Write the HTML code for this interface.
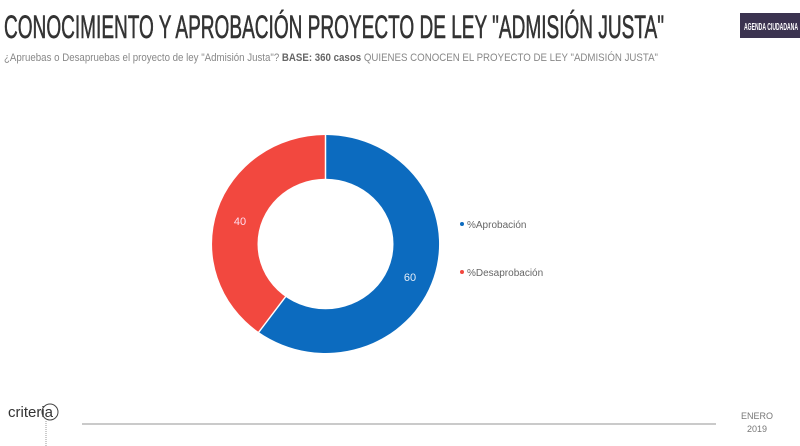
<!DOCTYPE html>
<html><head><meta charset="utf-8"><style>html,body{margin:0;padding:0;background:#fff;}svg{display:block}</style></head>
<body>
<svg width="800" height="446" viewBox="0 0 800 446" xmlns="http://www.w3.org/2000/svg">
<rect width="800" height="446" fill="#fff"/>
<text x="4" y="38" font-family="'Liberation Sans Narrow','Liberation Sans',sans-serif" font-size="32" fill="#333" stroke="#333" stroke-width="0.6" textLength="660" lengthAdjust="spacingAndGlyphs">CONOCIMIENTO Y APROBACIÓN PROYECTO DE LEY "ADMISIÓN JUSTA"</text>
<rect x="740" y="13" width="60" height="25" fill="#3b3350"/>
<text x="744" y="30" font-family="'Liberation Sans Narrow','Liberation Sans',sans-serif" font-size="10" font-weight="bold" fill="#fff" textLength="54" lengthAdjust="spacingAndGlyphs">AGENDA CIUDADANA</text>
<text x="4" y="61" font-family="'Liberation Sans Narrow','Liberation Sans',sans-serif" font-size="11" fill="#888" textLength="654" lengthAdjust="spacingAndGlyphs">¿Apruebas o Desapruebas el proyecto de ley "Admisión Justa"? <tspan font-weight="bold" fill="#666">BASE: 360 casos</tspan> QUIENES CONOCEN EL PROYECTO DE LEY "ADMISIÓN JUSTA"</text>
<g transform="translate(325.5,244) scale(1,0.96)">
<path d="M0,0 L0,-113.5 A113.5,113.5 0 1 1 -66.7,91.8 Z" fill="#0c6bbf"/>
<path d="M0,0 L-66.7,91.8 A113.5,113.5 0 0 1 0,-113.5 Z" fill="#f2483f"/>
<line x1="0" y1="0" x2="0" y2="-114" stroke="#fff" stroke-width="1.5"/>
<line x1="0" y1="0" x2="-67" y2="92.2" stroke="#fff" stroke-width="1.5"/>
<circle r="68" fill="#fff"/>
</g>
<text x="410" y="281" font-family="'Liberation Sans',sans-serif" font-size="11" fill="#e6eef8" text-anchor="middle">60</text>
<text x="240" y="225" font-family="'Liberation Sans',sans-serif" font-size="11" fill="#fde" text-anchor="middle">40</text>
<circle cx="462" cy="224" r="2" fill="#0c6bbf"/>
<text x="467" y="228" font-family="'Liberation Sans',sans-serif" font-size="10" fill="#666">%Aprobación</text>
<circle cx="462" cy="272" r="2" fill="#f2483f"/>
<text x="467" y="276" font-family="'Liberation Sans',sans-serif" font-size="10" fill="#666">%Desaprobación</text>
<text x="8" y="417" font-family="'Liberation Sans',sans-serif" font-size="15" fill="#333">criteria</text>
<circle cx="50" cy="412" r="8" fill="none" stroke="#444" stroke-width="1"/>
<line x1="46" y1="421" x2="46" y2="446" stroke="#999" stroke-width="1" stroke-dasharray="1,1"/>
<line x1="82" y1="424" x2="716" y2="424" stroke="#aaa" stroke-width="1.2"/>
<text x="757" y="419" font-family="'Liberation Sans Narrow','Liberation Sans',sans-serif" font-size="9" fill="#777" text-anchor="middle">ENERO</text>
<text x="757" y="432" font-family="'Liberation Sans Narrow','Liberation Sans',sans-serif" font-size="9" fill="#777" text-anchor="middle">2019</text>
</svg>
</body></html>
